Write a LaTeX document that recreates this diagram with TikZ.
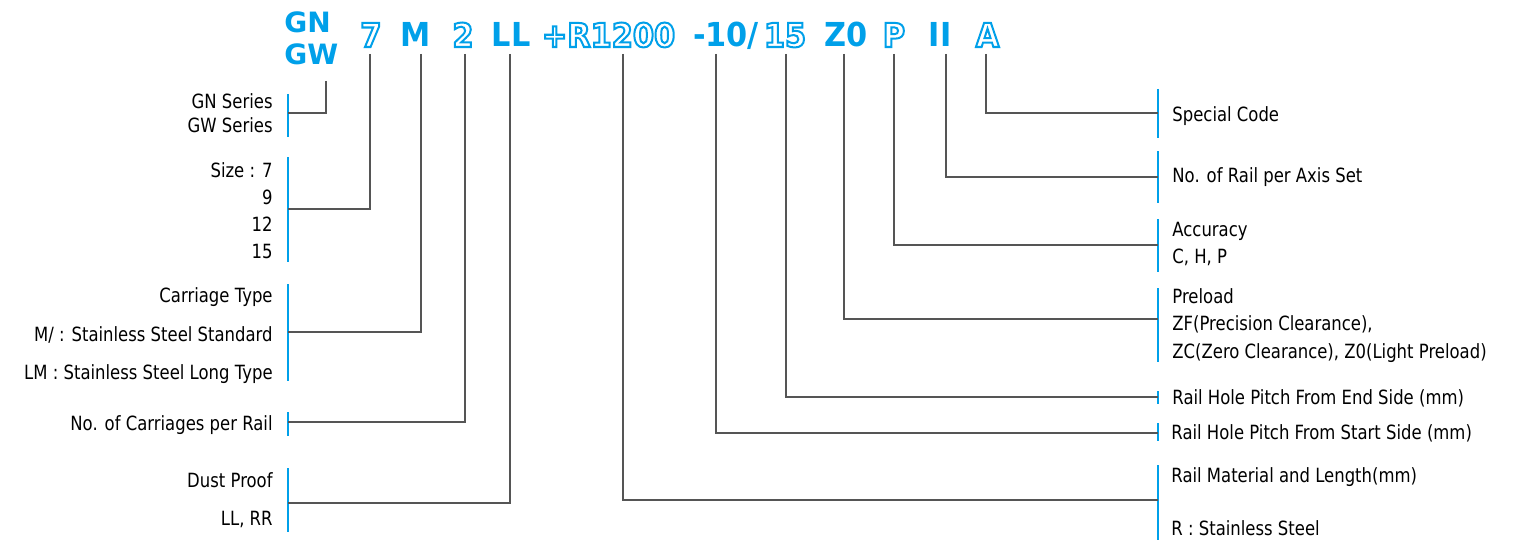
\documentclass[tikz,border=0pt]{standalone}
\usepackage{fontspec}
\setmainfont{DejaVu Sans}[FakeStretch=0.84]
\newfontfamily\codefont{DejaVu Sans}[FakeStretch=0.92]
\newfontfamily\serfont{DejaVu Sans}
\definecolor{cblue}{RGB}{0,160,233}
\definecolor{lgray}{RGB}{85,85,85}
\newcommand\olt[1]{\special{pdf:code 1 1 1 rg 0 0.627 0.914 RG 2 Tr 1 w}#1\special{pdf:code 0 Tr}}
\tikzset{
  lab/.style={font=\fontsize{9.8}{12}\selectfont, inner sep=0pt, text=black},
  labL/.style={lab, anchor=base east},
  labR/.style={lab, anchor=base west},
  code/.style={font=\codefont\bfseries\fontsize{16.5}{18}\selectfont, inner sep=0pt, anchor=base, text=cblue},
  ocode/.style={code, text=white},
  ser/.style={font=\serfont\bfseries\fontsize{14}{16}\selectfont, inner sep=0pt, anchor=base west, text=cblue},
  bar/.style={draw=cblue, line width=1pt},
  conn/.style={draw=lgray, line width=0.6pt},
}
\begin{document}
\begin{tikzpicture}[x=0.5pt,y=-0.5pt]
\useasboundingbox (0,0) rectangle (1513,540);
% code line
\node[ser] (gn) at (284,33) {GN};
\node[ser] (gw) at (284,65) {GW};
\node[ocode] (c7) at (371,47) {\olt{7}};
\node[code] (cM) at (416,47) {M};
\node[ocode] (c2) at (463,47) {\olt{2}};
\node[code] (cLL) at (511,47) {LL};
\node[ocode] (cR) at (608.5,47) {\olt{+R1200}};
\node[code] (c10) at (726,47) {-10/};
\node[ocode] (c15) at (785,47) {\olt{15}};
\node[code] (cZ) at (846.5,47) {Z0};
\node[ocode] (cP) at (894,47) {\olt{P}};
\node[code] (cII) at (940,47) {II};
\node[ocode] (cA) at (987.5,47) {\olt{A}};
% connector tops
\coordinate (tG) at (326,81);
\coordinate (t7) at (370,54);
\coordinate (tM) at (421,54);
\coordinate (t2) at (465,54);
\coordinate (tLL) at (510,54);
\coordinate (tR) at (623,54);
\coordinate (t10) at (716,54);
\coordinate (t15) at (786,54);
\coordinate (tZ) at (844,54);
\coordinate (tP) at (894,54);
\coordinate (tII) at (946,54);
\coordinate (tA) at (986,54);
% left labels
\node[labL] (l1a) at (273,109) {GN Series};
\node[labL] (l1b) at (273,133) {GW Series};
\node[labL] (l2a) at (273,177) {Size : 7};
\node[labL] (l2b) at (273,204) {9};
\node[labL] (l2c) at (273,231) {12};
\node[labL] (l2d) at (273,258) {15};
\node[labL] (l3a) at (273,302) {Carriage Type};
\node[labL] (l3b) at (273,341) {M/ : Stainless Steel Standard};
\node[labL] (l3c) at (273,379) {LM : Stainless Steel Long Type};
\node[labL] (l4) at (273,430) {No. of Carriages per Rail};
\node[labL] (l5a) at (273,487) {Dust Proof};
\node[labL] (l5b) at (273,525) {LL, RR};
% right labels
\node[labR] (r1) at (1172,121) {Special Code};
\node[labR] (r2) at (1172,182) {No. of Rail per Axis Set};
\node[labR] (r3a) at (1172,236) {Accuracy};
\node[labR] (r3b) at (1172,263) {C, H, P};
\node[labR] (r4a) at (1172,303) {Preload};
\node[labR] (r4b) at (1172,330) {ZF(Precision Clearance),};
\node[labR] (r4c) at (1172,358) {ZC(Zero Clearance), Z0(Light Preload)};
\node[labR] (r5) at (1172,404) {Rail Hole Pitch From End Side (mm)};
\node[labR] (r6) at (1171,439) {Rail Hole Pitch From Start Side (mm)};
\node[labR] (r7a) at (1171,482) {Rail Material and Length(mm)};
\node[labR] (r7b) at (1171,535) {R : Stainless Steel};
% left bars
\draw[bar] (288,94) -- (288,137);  \coordinate (mG) at (288,113);
\draw[bar] (288,157) -- (288,262); \coordinate (mS) at (288,209);
\draw[bar] (288,284) -- (288,381); \coordinate (mC) at (288,332);
\draw[bar] (288,412) -- (288,436); \coordinate (mN) at (288,422);
\draw[bar] (288,468) -- (288,532); \coordinate (mD) at (288,503);
% right bars
\draw[bar] (1158,89) -- (1158,138);  \coordinate (mA) at (1158,113);
\draw[bar] (1158,151) -- (1158,203); \coordinate (mII) at (1158,177);
\draw[bar] (1158,219) -- (1158,272); \coordinate (mP) at (1158,245);
\draw[bar] (1158,288) -- (1158,362); \coordinate (mZ) at (1158,319);
\draw[bar] (1158,391) -- (1158,404); \coordinate (m15) at (1158,397);
\draw[bar] (1158,423) -- (1158,441); \coordinate (m10) at (1158,433);
\draw[bar] (1158,465) -- (1158,540); \coordinate (mR) at (1158,500);
% connectors
\draw[conn] (tG) |- (mG);
\draw[conn] (t7) |- (mS);
\draw[conn] (tM) |- (mC);
\draw[conn] (t2) |- (mN);
\draw[conn] (tLL) |- (mD);
\draw[conn] (tA) |- (mA);
\draw[conn] (tII) |- (mII);
\draw[conn] (tP) |- (mP);
\draw[conn] (tZ) |- (mZ);
\draw[conn] (t15) |- (m15);
\draw[conn] (t10) |- (m10);
\draw[conn] (tR) |- (mR);
\end{tikzpicture}
\end{document}
